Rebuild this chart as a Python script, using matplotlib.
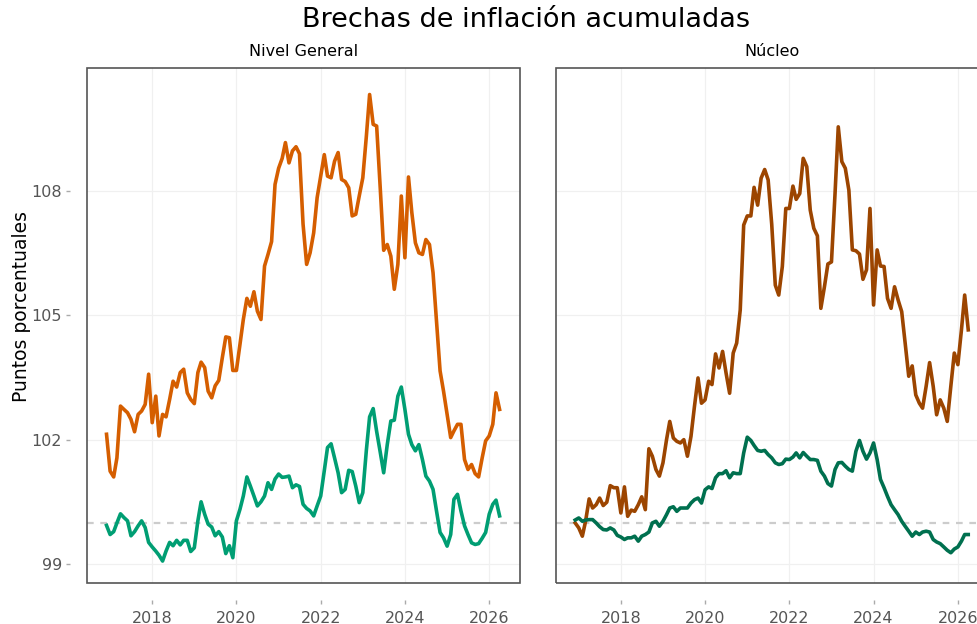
import pandas as pd
import matplotlib.pyplot as plt
import matplotlib.dates as mdates
from matplotlib.patches import Rectangle

# monthly data, Dec 2016 .. Apr 2026
fechas = pd.date_range("2016-12-01", periods=113, freq="MS")

general_a = [102.13, 101.24, 101.10, 101.56, 102.81, 102.73, 102.65, 102.49, 102.19, 102.61,
             102.69, 102.85, 103.58, 102.41, 103.05, 102.09, 102.61, 102.55, 102.97, 103.41,
             103.27, 103.62, 103.70, 103.13, 102.97, 102.87, 103.62, 103.87, 103.74, 103.17,
             103.01, 103.30, 103.43, 103.98, 104.48, 104.46, 103.67, 103.67, 104.30, 104.90,
             105.41, 105.22, 105.57, 105.10, 104.90, 106.19, 106.47, 106.78, 108.16, 108.55,
             108.79, 109.17, 108.68, 108.97, 109.07, 108.90, 107.20, 106.23, 106.51, 106.99,
             107.84, 108.36, 108.88, 108.36, 108.32, 108.72, 108.93, 108.28, 108.23, 108.08,
             107.40, 107.44, 107.88, 108.32, 109.33, 110.33, 109.61, 109.57, 108.08, 106.57,
             106.71, 106.43, 105.63, 106.23, 107.88, 106.39, 108.34, 107.48, 106.75, 106.51,
             106.47, 106.83, 106.71, 106.03, 104.86, 103.66, 103.17, 102.61, 102.05, 102.21,
             102.37, 102.37, 101.52, 101.28, 101.40, 101.18, 101.10, 101.56, 101.97, 102.09,
             102.37, 103.13, 102.73]

general_b = [99.93, 99.71, 99.78, 99.99, 100.21, 100.12, 100.04, 99.68, 99.78, 99.92,
             100.04, 99.88, 99.52, 99.41, 99.31, 99.21, 99.07, 99.31, 99.52, 99.44,
             99.57, 99.46, 99.57, 99.57, 99.30, 99.39, 100.04, 100.50, 100.20, 99.96,
             99.89, 99.68, 99.78, 99.65, 99.25, 99.44, 99.15, 100.04, 100.32, 100.64,
             101.10, 100.88, 100.64, 100.40, 100.50, 100.64, 100.96, 100.80, 101.05, 101.17,
             101.09, 101.10, 101.12, 100.84, 100.91, 100.87, 100.44, 100.34, 100.28, 100.16,
             100.40, 100.64, 101.25, 101.81, 101.90, 101.56, 101.20, 100.72, 100.80, 101.26,
             101.23, 100.88, 100.48, 100.72, 101.75, 102.55, 102.75, 102.20, 101.70, 101.20,
             101.88, 102.45, 102.47, 103.05, 103.27, 102.73, 102.13, 101.88, 101.73, 101.88,
             101.52, 101.12, 101.00, 100.80, 100.28, 99.76, 99.63, 99.43, 99.71, 100.56,
             100.68, 100.28, 99.92, 99.71, 99.51, 99.47, 99.49, 99.62, 99.76, 100.20,
             100.44, 100.54, 100.16]

nucleo_a = [99.99, 99.87, 99.67, 100.03, 100.57, 100.35, 100.43, 100.59, 100.41, 100.49,
            100.89, 100.84, 100.84, 100.23, 100.86, 100.15, 100.30, 100.27, 100.43, 100.62,
            100.31, 101.78, 101.60, 101.28, 101.12, 101.44, 102.00, 102.44, 102.04, 101.96,
            101.92, 102.00, 101.60, 102.08, 102.80, 103.49, 102.88, 102.96, 103.41, 103.33,
            104.07, 103.73, 104.13, 103.61, 103.12, 104.09, 104.33, 105.13, 107.18, 107.40,
            107.40, 108.09, 107.66, 108.31, 108.52, 108.27, 107.20, 105.73, 105.49, 106.18,
            107.58, 107.58, 108.12, 107.80, 107.94, 108.79, 108.59, 107.54, 107.10, 106.92,
            105.17, 105.69, 106.24, 106.29, 107.94, 109.55, 108.71, 108.55, 108.02, 106.58,
            106.56, 106.48, 105.87, 106.10, 107.58, 105.25, 106.58, 106.19, 106.18, 105.41,
            105.17, 105.69, 105.37, 105.09, 104.33, 103.53, 103.78, 103.08, 102.88, 102.76,
            103.29, 103.86, 103.29, 102.60, 102.96, 102.76, 102.44, 103.29, 104.09, 103.81,
            104.65, 105.49, 104.65]

nucleo_b = [100.06, 100.11, 100.03, 100.06, 100.07, 100.07, 99.99, 99.90, 99.83, 99.82,
            99.87, 99.82, 99.69, 99.65, 99.59, 99.63, 99.63, 99.67, 99.55, 99.67,
            99.71, 99.77, 99.99, 100.03, 99.91, 100.03, 100.19, 100.35, 100.38, 100.27,
            100.35, 100.35, 100.35, 100.47, 100.55, 100.59, 100.47, 100.79, 100.86, 100.82,
            101.08, 101.18, 101.18, 101.25, 101.08, 101.20, 101.18, 101.18, 101.68, 102.06,
            101.98, 101.86, 101.74, 101.72, 101.74, 101.64, 101.56, 101.44, 101.40, 101.42,
            101.53, 101.52, 101.58, 101.68, 101.56, 101.69, 101.60, 101.52, 101.52, 101.50,
            101.24, 101.12, 100.94, 100.88, 101.28, 101.44, 101.45, 101.36, 101.28, 101.24,
            101.72, 101.98, 101.72, 101.53, 101.68, 101.92, 101.52, 101.04, 100.84, 100.63,
            100.43, 100.31, 100.19, 100.03, 99.91, 99.79, 99.67, 99.77, 99.71, 99.77,
            99.79, 99.77, 99.59, 99.53, 99.49, 99.41, 99.33, 99.27, 99.36, 99.41,
            99.55, 99.71, 99.71]

paneles = ["Nivel General", "Núcleo"]
y_ticks = [99, 102, 105, 108]
x_years = [2018, 2020, 2022, 2024, 2026]

fig = plt.figure(figsize=(9.78, 6.24), dpi=100)
ax1 = fig.add_axes([0.0890, 0.0657, 0.4427, 0.8253])
ax2 = fig.add_axes([0.5682, 0.0657, 0.4427, 0.8253])

series = [(ax1, general_a, general_b, "#D55E00", "#009E73"),
          (ax2, nucleo_a, nucleo_b, "#9C4500", "#00704F")]

for k, (ax, a, b, ca, cb) in enumerate(series):
    ax.axhline(100, color="#CCCCCC", lw=1.6, ls=(0, (3, 3)), zorder=1)
    ax.plot(fechas, a, color=ca, lw=2.6, zorder=3)
    ax.plot(fechas, b, color=cb, lw=2.6, zorder=3)
    ax.set_xlim(pd.Timestamp("2016-06-15"), pd.Timestamp("2026-09-25"))
    ax.set_ylim(98.54, 110.97)
    ax.set_xticks([pd.Timestamp(f"{y}-01-01") for y in x_years])
    ax.xaxis.set_major_formatter(mdates.DateFormatter("%Y"))
    ax.set_yticks(y_ticks)
    ax.grid(True, color="#F0F0F0", lw=0.9)
    ax.set_axisbelow(True)
    for s in ax.spines.values():
        s.set_visible(False)
    ax.spines["bottom"].set_position(("outward", 12))
    ax.spines["left"].set_position(("outward", 12))
    ax.add_patch(Rectangle((0, 0), 1, 1, transform=ax.transAxes, fill=False,
                           edgecolor="#555555", lw=1.2, clip_on=False, zorder=5))
    ax.tick_params(axis="both", colors="#AAAAAA", labelcolor="#555555",
                   labelsize=11.5, length=3, width=1, pad=3)
    ax.tick_params(axis="x", pad=5)
    ax.set_title(paneles[k], fontsize=11.5, pad=9)

ax2.tick_params(axis="y", left=False, labelleft=False)
ax1.set_ylabel("Puntos porcentuales", fontsize=13.5)
ax1.yaxis.set_label_coords(-0.13, 0.536)
fig.suptitle("Brechas de inflación acumuladas", fontsize=19.5, x=0.538, y=0.988)

fig.savefig("out.png", dpi=100)
